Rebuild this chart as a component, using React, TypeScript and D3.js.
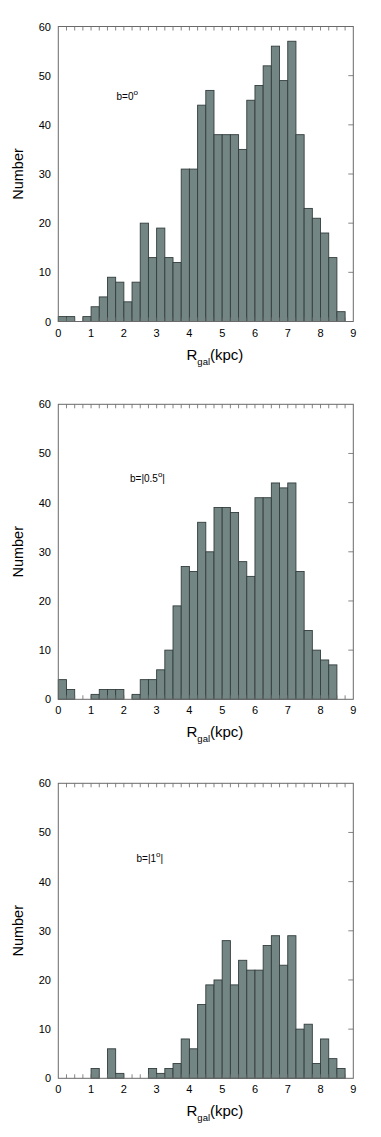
import React, { useRef, useEffect } from 'react';
import * as d3 from 'd3';

// bin edges: 0 to 9 kpc in steps of 0.25
const binStarts = d3.range(0, 9, 0.25);

// counts per bin
const countsB0 = [1, 1, 0, 1, 3, 5, 9, 8, 4, 8, 20, 13, 19, 13, 12, 31, 31, 44, 47, 38, 38, 38, 35, 45, 48, 52, 56, 49, 57, 38, 23, 21, 18, 13, 2, 0];
const countsB05 = [4, 2, 0, 0, 1, 2, 2, 2, 0, 1, 4, 4, 6, 10, 19, 27, 26, 36, 30, 39, 39, 38, 28, 25, 41, 41, 44, 43, 44, 26, 14, 10, 8, 7, 0, 0];
const countsB1 = [0, 0, 0, 0, 2, 0, 6, 1, 0, 0, 0, 2, 1, 2, 3, 8, 6, 15, 19, 20, 28, 19, 24, 22, 22, 27, 29, 23, 29, 10, 11, 3, 8, 4, 2, 0];

const panelLabels = ['b=0', 'b=|0.5', 'b=|1'];
const panelSuffix = ['', '|', '|'];
const xTicks = [0, 1, 2, 3, 4, 5, 6, 7, 8, 9];
const yTicks = [0, 10, 20, 30, 40, 50, 60];

const W = 381;
const H = 1137;

const App = () => {
  const svgRef = useRef(null);

  useEffect(() => {
    const svg = d3.select(svgRef.current);
    svg.selectAll('*').remove();

    const font = '"Liberation Sans", Arial, Helvetica, sans-serif';
    const panels = [countsB0, countsB05, countsB1];
    const left = 58.3, right = 353.3;
    const tops = [26.5, 404.3, 783.3];
    const ph = 295;
    const labelPos = [[116.5, 100], [130, 481.5], [136.5, 862]];

    const x = d3.scaleLinear().domain([0, 9]).range([left, right]);

    panels.forEach((counts, i) => {
      const top = tops[i];
      const bottom = top + ph;
      const y = d3.scaleLinear().domain([0, 60]).range([bottom, top]);
      const g = svg.append('g');

      // bars
      g.selectAll('rect.bar')
        .data(counts.map((c, k) => ({ x0: binStarts[k], c })).filter(d => d.c > 0))
        .enter()
        .append('rect')
        .attr('class', 'bar')
        .attr('x', d => x(d.x0))
        .attr('width', x(0.25) - x(0))
        .attr('y', d => y(d.c))
        .attr('height', d => y(0) - y(d.c))
        .attr('fill', '#738684')
        .attr('stroke', '#333d3d')
        .attr('stroke-width', 0.9);

      // minor ticks top and bottom, inward
      binStarts.slice(1).forEach(v => {
        g.append('line')
          .attr('x1', x(v)).attr('x2', x(v))
          .attr('y1', top).attr('y2', top + 4)
          .attr('stroke', '#666').attr('stroke-width', 0.8);
        g.append('line')
          .attr('x1', x(v)).attr('x2', x(v))
          .attr('y1', bottom).attr('y2', bottom - 4)
          .attr('stroke', '#666').attr('stroke-width', 0.8);
      });

      // right ticks
      yTicks.slice(1, -1).forEach(v => {
        g.append('line')
          .attr('x1', right).attr('x2', right - 5)
          .attr('y1', y(v)).attr('y2', y(v))
          .attr('stroke', '#666').attr('stroke-width', 0.8);
      });

      // frame
      g.append('rect')
        .attr('x', left).attr('y', top)
        .attr('width', right - left).attr('height', ph)
        .attr('fill', 'none')
        .attr('stroke', '#6a6a6a')
        .attr('stroke-width', 1);

      // y tick labels
      g.selectAll('text.yl')
        .data(yTicks)
        .enter()
        .append('text')
        .attr('x', 51)
        .attr('y', d => y(d) + 4)
        .attr('text-anchor', 'end')
        .attr('font-family', font)
        .attr('font-size', 11)
        .text(d => d);

      // x tick labels
      g.selectAll('text.xl')
        .data(xTicks)
        .enter()
        .append('text')
        .attr('x', d => x(d))
        .attr('y', bottom + 15)
        .attr('text-anchor', 'middle')
        .attr('font-family', font)
        .attr('font-size', 11)
        .text(d => d);

      // y axis title
      g.append('text')
        .attr('transform', `translate(23,${(top + bottom) / 2}) rotate(-90)`)
        .attr('text-anchor', 'middle')
        .attr('font-family', font)
        .attr('font-size', 14.5)
        .text('Number');

      // x axis title R_gal(kpc)
      const xt = g.append('text')
        .attr('x', 186.5)
        .attr('y', bottom + 38)
        .attr('font-family', font)
        .attr('font-size', 15);
      xt.append('tspan').text('R');
      xt.append('tspan').attr('font-size', 9.5).attr('dy', 5).text('gal');
      xt.append('tspan').attr('dy', -5).text('(kpc)');

      // panel annotation
      const [lx, ly] = labelPos[i];
      const lt = g.append('text')
        .attr('x', lx)
        .attr('y', ly)
        .attr('font-family', font)
        .attr('font-size', 10);
      lt.append('tspan').text(panelLabels[i]);
      lt.append('tspan').attr('font-size', 8).attr('dy', -5).text('o');
      lt.append('tspan').attr('dy', 5).text(panelSuffix[i]);
    });
  }, []);

  return (
    <div style={{ position: 'absolute', left: 0, top: 0 }}>
      <svg ref={svgRef} width={W} height={H} style={{ display: 'block', background: '#fff' }}></svg>
    </div>
  );
};

export default App;
